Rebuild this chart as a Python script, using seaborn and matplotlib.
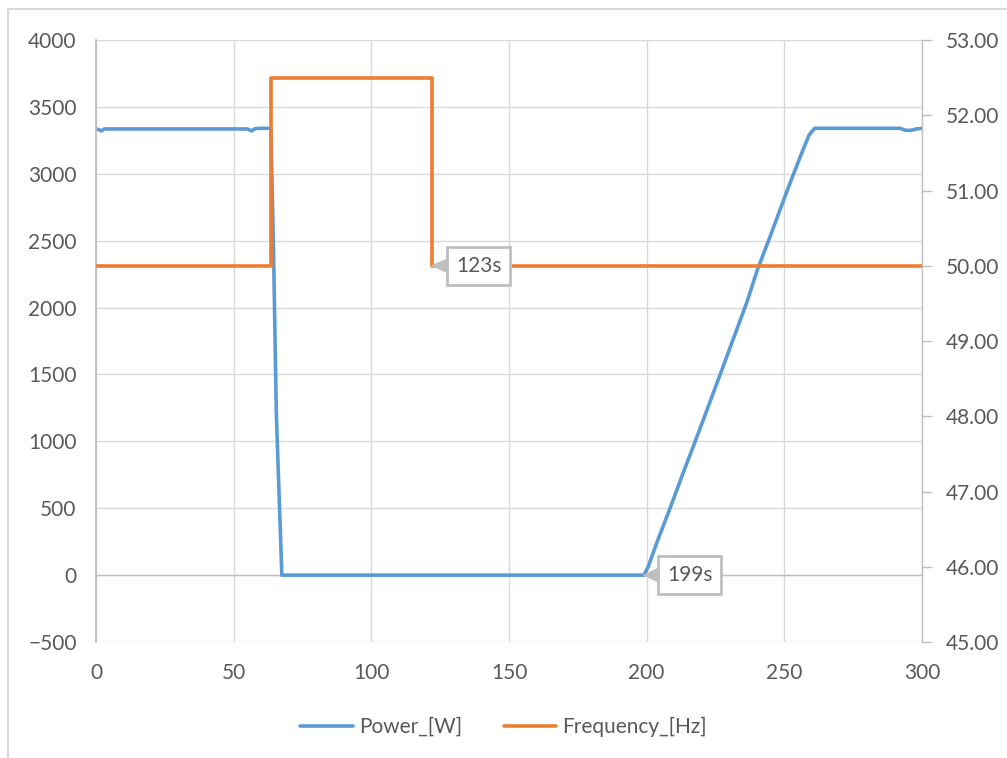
import matplotlib
matplotlib.use("Agg")
import matplotlib.pyplot as plt
from matplotlib.patches import Rectangle
import seaborn as sns
import pandas as pd

# power trace (s, W)
power_time = [0, 1, 2, 3, 30, 55, 56.5, 57.5, 59, 63.5, 64.5, 65.5, 67.5, 100, 150, 199,
              200.5, 204, 208.5, 213, 218, 222, 226.7, 231, 236.4, 240, 245, 249.5, 253,
              256.8, 259, 261, 280, 292, 294, 296, 298, 300]
power_w = [3335, 3330, 3320, 3335, 3335, 3335, 3320, 3335, 3340, 3340, 2400, 1200, 0, 0, 0, 0,
           60, 260, 500, 750, 1020, 1240, 1500, 1740, 2040, 2270, 2540, 2790, 2980,
           3180, 3290, 3340, 3340, 3340, 3325, 3325, 3335, 3340]

# frequency trace (s, Hz)
freq_time = [0, 63.6, 63.6, 122, 122, 300]
freq_hz = [50.0, 50.0, 52.5, 52.5, 50.0, 50.0]

x_ticks = [0, 50, 100, 150, 200, 250, 300]
power_ticks = [-500, 0, 500, 1000, 1500, 2000, 2500, 3000, 3500, 4000]
freq_ticks = [45, 46, 47, 48, 49, 50, 51, 52, 53]

df_p = pd.DataFrame({"t": power_time, "p": power_w})
df_f = pd.DataFrame({"t": freq_time, "f": freq_hz})

sns.set_style("white")
plt.rcParams['font.family'] = ['Lato', 'DejaVu Sans']
txt = '#595959'
grid = '#d9d9d9'
axc = '#bfbfbf'
blue = '#5b9bd5'
orange = '#ed7d31'
fs = 15

fig = plt.figure(figsize=(10.07, 7.58), dpi=100)
ax = fig.add_axes([96/1007, 116/758, 826/1007, 602/758])
ax2 = ax.twinx()

sns.lineplot(data=df_p, x="t", y="p", ax=ax, color=blue, lw=2.6, sort=False,
             estimator=None, label="Power_[W]", legend=False)
sns.lineplot(data=df_f, x="t", y="f", ax=ax2, color=orange, lw=2.6, sort=False,
             estimator=None, label="Frequency_[Hz]", legend=False)

ax.set_xlim(0, 300)
ax.set_ylim(-500, 4000)
ax2.set_ylim(45, 53)
ax.set_xticks(x_ticks)
ax.set_yticks(power_ticks)
ax2.set_yticks(freq_ticks)
ax2.set_yticklabels([f"{v:.2f}" for v in freq_ticks])
ax.set_xlabel("")
ax.set_ylabel("")
ax2.set_ylabel("")

ax.grid(True, color=grid, lw=1.0)
ax.set_axisbelow(True)
ax.axhline(0, color=axc, lw=1.0, zorder=1)
for s in ["top", "right", "bottom"]:
    ax.spines[s].set_visible(False)
ax.spines["left"].set_color(axc)
ax.spines["left"].set_linewidth(1.3)
for s in ["top", "left", "bottom"]:
    ax2.spines[s].set_visible(False)
ax2.spines["right"].set_color(axc)
ax2.spines["right"].set_linewidth(1.0)

ax.tick_params(axis='y', length=0, pad=14, labelsize=fs, labelcolor=txt)
ax.tick_params(axis='x', length=0, pad=15, labelsize=fs, labelcolor=txt)
ax2.tick_params(axis='y', length=7, width=1.0, color=axc, pad=10, labelsize=fs, labelcolor=txt)

box = dict(boxstyle='square,pad=0.42', fc='white', ec=axc, lw=2)
arrow = dict(arrowstyle='wedge,tail_width=0.6', fc=axc, ec=axc, shrinkA=0, shrinkB=0)
ax2.annotate("123s", xy=(122, 50.0), xytext=(47, 0), textcoords='offset pixels',
             ha='center', va='center', fontsize=fs, color=txt, bbox=box, arrowprops=arrow)
ax.annotate("199s", xy=(199, 0), xytext=(46, 0), textcoords='offset pixels',
            ha='center', va='center', fontsize=fs, color=txt, bbox=box, arrowprops=arrow)

h1, l1 = ax.get_legend_handles_labels()
h2, l2 = ax2.get_legend_handles_labels()
fig.legend(h1 + h2, l1 + l2, loc='center', bbox_to_anchor=(0.5, 31/758), ncol=2,
           frameon=False, fontsize=fs, labelcolor=txt, handlelength=2.5,
           columnspacing=2.0, handletextpad=0.3)

fig.patches.append(Rectangle((8/1007, -0.1), 1.2, (758 - 9)/758 + 0.1,
                             transform=fig.transFigure, fill=False, ec=grid, lw=1.5))

fig.savefig("out.png", dpi=100)
